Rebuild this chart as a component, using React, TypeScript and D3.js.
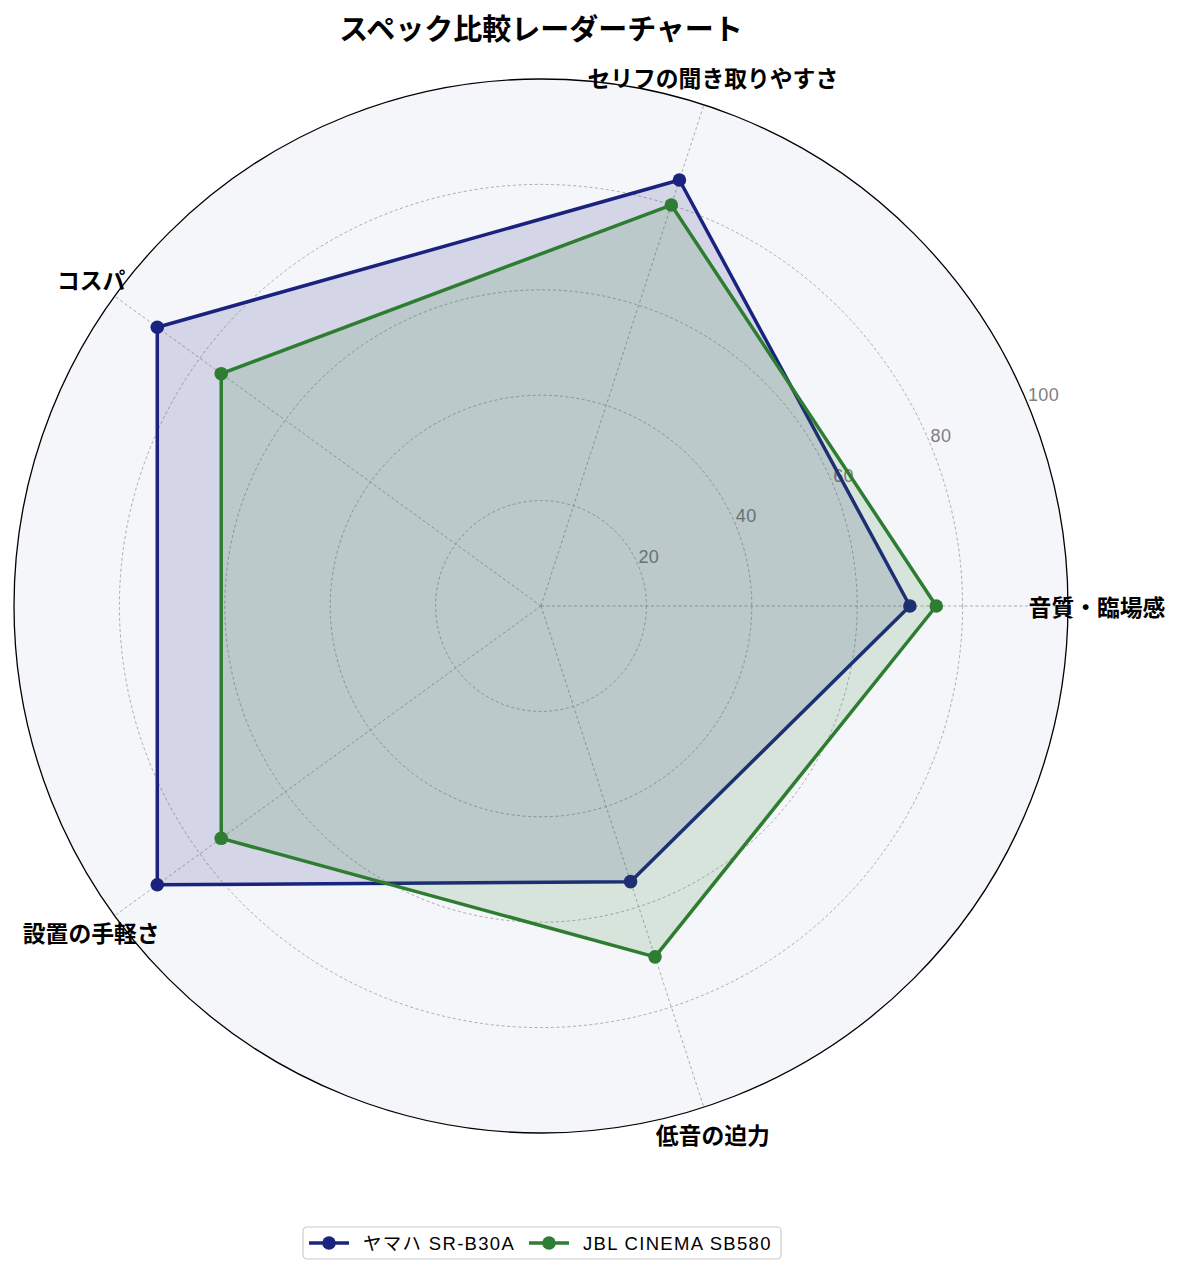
import React from 'react';
import * as d3 from 'd3';

const categories = ['音質・臨場感', 'セリフの聞き取りやすさ', 'コスパ', '設置の手軽さ', '低音の迫力'];
const yamahaValues = [70, 85, 90, 90, 55];
const jblValues = [75, 80, 75, 75, 70];
const radialTicks = [20, 40, 60, 80, 100];

const series = [
  { name: 'ヤマハ SR-B30A', values: yamahaValues, color: '#1a237e' },
  { name: 'JBL CINEMA SB580', values: jblValues, color: '#2e7d32' },
];

const W = 1181;
const H = 1276;
const cx = 541;
const cy = 606;
const R = 527;
const FONT = '"Liberation Sans", "Noto Sans CJK JP", sans-serif';
const CJK = '"Noto Sans CJK JP", "Noto Sans", sans-serif';

const App: React.FC = () => {
  const r = d3.scaleLinear().domain([0, 100]).range([0, R]);
  const angle = d3.scaleLinear().domain([0, categories.length]).range([0, 2 * Math.PI]);

  // polar -> screen (counterclockwise from east)
  const pt = (i: number, v: number): [number, number] => {
    const a = angle(i);
    return [cx + r(v) * Math.cos(a), cy - r(v) * Math.sin(a)];
  };

  const line = d3.line<[number, number]>().curve(d3.curveLinearClosed);
  const rlabelAngle = (22.5 * Math.PI) / 180;

  return (
    <svg width={W} height={H} style={{ display: 'block', margin: '-8px' }} fontFamily={FONT}>
      <rect width={W} height={H} fill="#ffffff" />
      <circle cx={cx} cy={cy} r={R} fill="#f5f6fa" />

      {/* grid circles */}
      {radialTicks.slice(0, -1).map(t => (
        <circle key={t} cx={cx} cy={cy} r={r(t)} fill="none" stroke="#999999"
          strokeWidth={0.8} strokeDasharray="3,2.5" />
      ))}
      {/* spokes */}
      {categories.map((c, i) => {
        const [x, y] = pt(i, 100);
        return <line key={c} x1={cx} y1={cy} x2={x} y2={y} stroke="#999999"
          strokeWidth={0.8} strokeDasharray="3,2.5" />;
      })}

      {/* radial tick labels */}
      {radialTicks.map(t => (
        <text key={t} x={cx + r(t) * Math.cos(rlabelAngle)} y={cy - r(t) * Math.sin(rlabelAngle) - 3}
          fontSize={18} letterSpacing={0.4} fill="#808080" textAnchor="start">{t}</text>
      ))}

      {/* series */}
      {series.map(s => {
        const pts = s.values.map((v, i) => pt(i, v));
        return (
          <g key={s.name}>
            <path d={line(pts) || ''} fill="none" stroke={s.color} strokeWidth={3.5} strokeLinejoin="round" />
            {pts.map((p, i) => <circle key={i} cx={p[0]} cy={p[1]} r={6.8} fill={s.color} />)}
            <path d={line(pts) || ''} fill={s.color} fillOpacity={0.15} stroke="none" />
          </g>
        );
      })}

      {/* outer spine */}
      <circle cx={cx} cy={cy} r={R} fill="none" stroke="#000" strokeWidth={1.3} />

      {/* category labels */}
      {categories.map((c, i) => {
        const a = angle(i);
        return (
          <text key={c} x={cx + (R + 29) * Math.cos(a)} y={cy - (R + 29) * Math.sin(a)}
            fontFamily={CJK} fontSize={22.8} fontWeight="bold" textAnchor="middle" dominantBaseline="central"
            fill="#000">{c}</text>
        );
      })}

      {/* title */}
      <text x={cx} y={27} fontFamily={CJK} fontSize={29} fontWeight="bold" textAnchor="middle"
        dominantBaseline="central">スペック比較レーダーチャート</text>

      {/* legend */}
      <g transform="translate(303,1227)">
        <rect x={0} y={0} width={478} height={32} rx={4} fill="#fff" stroke="#cccccc" strokeWidth={1.2} />
        {series.map((s, i) => {
          const ox = i === 0 ? 6 : 226;
          return (
            <g key={s.name} transform={`translate(${ox},16)`}>
              <line x1={0} x2={40} y1={0} y2={0} stroke={s.color} strokeWidth={3.5} />
              <circle cx={20} cy={0} r={6.8} fill={s.color} />
              <text x={54} y={0} fontSize={18.5} letterSpacing={1.3} dominantBaseline="central" fill="#000">{s.name}</text>
            </g>
          );
        })}
      </g>
    </svg>
  );
};

export default App;
